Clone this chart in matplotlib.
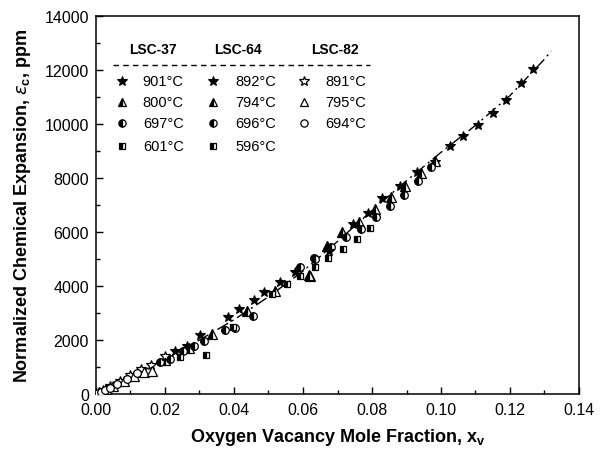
import numpy as np
import matplotlib
matplotlib.use("Agg")
import matplotlib.pyplot as plt
from matplotlib.ticker import MultipleLocator

plt.rcParams['font.family'] = ['Liberation Sans', 'DejaVu Sans']

# ---- data ----
# LSC-37
x37_901 = [0.0745, 0.0788, 0.0829, 0.0881, 0.0930, 0.0982, 0.1026, 0.1064, 0.1107, 0.1151, 0.1188, 0.1232, 0.1267]
y37_901 = [6300, 6700, 7260, 7704, 8222, 8593, 9185, 9556, 9963, 10407, 10889, 11518, 12037]
x37_800 = [0.0620, 0.0671, 0.0713, 0.0762, 0.0809, 0.0855, 0.0896, 0.0942, 0.0982]
y37_800 = [4370, 5480, 6000, 6370, 6852, 7296, 7704, 8185, 8630]
x37_697 = [0.0632, 0.0680, 0.0725, 0.0768, 0.0812, 0.0852, 0.0893, 0.0933, 0.0971]
y37_697 = [5037, 5450, 5800, 6111, 6555, 6963, 7370, 7889, 8407]
x37_601 = [0.0591, 0.0635, 0.0672, 0.0716, 0.0757, 0.0794]
y37_601 = [4370, 4704, 5037, 5370, 5741, 6148]

# LSC-64
x64_892 = [0.0229, 0.0264, 0.0301, 0.0383, 0.0415, 0.0458, 0.0487, 0.0533, 0.0577, 0.0675]
y64_892 = [1593, 1778, 2185, 2852, 3148, 3481, 3778, 4148, 4519, 5296]
x64_794 = [0.0200, 0.0270, 0.0336, 0.0437, 0.0520, 0.0617]
y64_794 = [1250, 1700, 2222, 3074, 3800, 4407]
x64_696 = [0.0186, 0.0214, 0.0252, 0.0284, 0.0313, 0.0374, 0.0403, 0.0455, 0.0591, 0.0635]
y64_696 = [1185, 1296, 1593, 1778, 1963, 2370, 2444, 2889, 4704, 5000]
x64_596 = [0.0243, 0.0319, 0.0397, 0.0510, 0.0553]
y64_596 = [1370, 1444, 2481, 3700, 4074]

# LSC-82
x82_891 = [0.0020, 0.0040, 0.0070, 0.0100, 0.0130, 0.0160, 0.0200]
y82_891 = [130, 280, 470, 700, 920, 1080, 1400]
x82_795 = [0.0010, 0.0030, 0.0050, 0.0080, 0.0110, 0.0140, 0.0162]
y82_795 = [60, 180, 300, 480, 680, 830, 852]
x82_694 = [0.0005, 0.0015, 0.0025, 0.0040, 0.0060, 0.0090, 0.0120]
y82_694 = [30, 90, 150, 240, 360, 560, 760]

# fitted curve
fit_x = [0, 0.01, 0.02, 0.03, 0.04, 0.05, 0.06, 0.07, 0.08, 0.09, 0.10, 0.11, 0.12, 0.13, 0.1319]
fit_y = [0, 620, 1280, 2000, 2750, 3600, 4550, 5650, 6800, 7900, 8950, 9950, 11050, 12400, 12700]

groups = ["LSC-37", "LSC-64", "LSC-82"]
temps = [["901", "800", "697", "601"],
         ["892", "794", "696", "596"],
         ["891", "795", "694"]]
series = [[(x37_901, y37_901), (x37_800, y37_800), (x37_697, y37_697), (x37_601, y37_601)],
          [(x64_892, y64_892), (x64_794, y64_794), (x64_696, y64_696), (x64_596, y64_596)],
          [(x82_891, y82_891), (x82_795, y82_795), (x82_694, y82_694)]]
markers = ["*", "^", "o", "s"]
fills = ["left", "left", "none"]

fig = plt.figure(figsize=(6.13, 4.6), dpi=100)
ax = fig.add_axes([96/613, 1-395/460, 483/613, 378/460])

ax.plot(fit_x, fit_y, color="black", lw=1.0, dashes=(9, 3, 1.5, 3), zorder=1)

def mstyle(g, k):
    m = markers[k]
    ms = {"*": 7.5, "^": 6.5, "o": 5.5, "s": 5.0}[m]
    if m == "*" and g < 2:
        return dict(marker=m, ms=ms, mfc="black", mec="black", mew=0.8)
    if fills[g] == "none":
        return dict(marker=m, ms=ms, mfc="white", mec="black", mew=0.9)
    return dict(marker=m, ms=ms, fillstyle=fills[g], mfc="black", mfcalt="white",
                mec="black", mew=0.9)

for g in range(3):
    for k, (xs, ys) in enumerate(series[g]):
        ax.plot(xs, ys, ls="none", zorder=3, **mstyle(g, k))

ax.set_xlim(0, 0.14)
ax.set_ylim(0, 14000)
ax.xaxis.set_major_locator(MultipleLocator(0.02))
ax.xaxis.set_minor_locator(MultipleLocator(0.01))
ax.yaxis.set_major_locator(MultipleLocator(2000))
ax.yaxis.set_minor_locator(MultipleLocator(1000))
ax.xaxis.set_major_formatter(plt.FuncFormatter(lambda v, p: f"{v:.2f}"))
ax.tick_params(which="both", direction="in", top=False, right=False, labelsize=11.5)
ax.tick_params(which="major", length=5, width=1)
ax.tick_params(which="minor", length=3, width=1)
ax.tick_params(axis="y", pad=5)
ax.tick_params(axis="x", pad=6)
for sp in ax.spines.values():
    sp.set_linewidth(1.1)

ax.set_xlabel(r"Oxygen Vacancy Mole Fraction, x$_\mathregular{v}$", fontsize=13,
              fontweight="bold", labelpad=6)
ax.set_ylabel(r"Normalized Chemical Expansion, $\varepsilon_\mathregular{c}$, ppm",
              fontsize=13, fontweight="bold", labelpad=8)

# ---- hand-made legend ----
hdr_x = [0.118, 0.294, 0.495]
mk_x = [0.054, 0.242, 0.431]
tx_x = [0.097, 0.288, 0.474]
row_y = [0.828, 0.772, 0.717, 0.656]
for g in range(3):
    ax.text(hdr_x[g], 0.913, groups[g], transform=ax.transAxes, ha="center", va="center",
            fontsize=10, fontweight="bold")
    for k, t in enumerate(temps[g]):
        st = mstyle(g, k)
        st["ms"] = st["ms"] * 0.95
        ax.plot([mk_x[g]], [row_y[k]], transform=ax.transAxes, clip_on=False, ls="none", **st)
        ax.text(tx_x[g], row_y[k], t + "\u00b0C", transform=ax.transAxes, ha="left",
                va="center", fontsize=10.5)
ax.plot([0.035, 0.567], [0.870, 0.870], transform=ax.transAxes, color="black", lw=1.0,
        ls=(0, (4, 3)))

fig.savefig("out.png", dpi=100)
